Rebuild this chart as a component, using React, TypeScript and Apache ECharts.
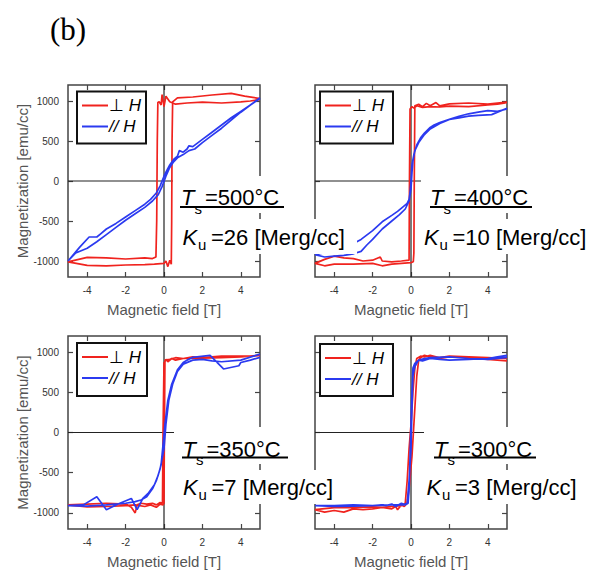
import React, { useEffect, useRef } from "react";
import * as echarts from "echarts";

// ---------- data ----------
const xTicks = [-4, -2, 0, 2, 4];
const yTicks = [-1000, -500, 0, 500, 1000];
const xMin = -5;
const xMax = 5;
const yMin = -1200;
const yMax = 1200;

const tsLabels = ["=500°C", "=400°C", "=350°C", "=300°C"];
const kuLabels = ["=26 [Merg/cc]", "=10 [Merg/cc]", "=7 [Merg/cc]", "=3 [Merg/cc]"];
const legendNames = ["⊥ ", "// "];
const xAxisName = "Magnetic field [T]";
const yAxisName = "Magnetization [emu/cc]";

// Panel 1 (Ts = 500 °C)
const p1Perp: number[][] = [
  [5, 1020], [4.5, 1000], [4, 990], [3, 975], [2, 985], [1.2, 975], [0.6, 960], [0.3, 990],
  [0.1, 1060], [0, 930], [-0.1, 1080], [-0.15, 950], [-0.25, 990], [-0.32, 980], [-0.35, 500],
  [-0.38, -500], [-0.42, -950], [-0.6, -970], [-1, -960], [-2, -975], [-3, -960], [-4, -955], [-5, -1010],
  [-4, -1055], [-3, -1060], [-2, -1050], [-1, -1045], [-0.5, -1040], [0, -1030], [0.1, -1000],
  [0.2, -1070], [0.3, -990], [0.38, -1040], [0.4, -500], [0.42, 500], [0.45, 990], [0.7, 1040],
  [1.5, 1050], [2.5, 1075], [3.5, 1095], [4.2, 1060], [5, 1030],
];
const p1Para: number[][] = [
  [5, 1040], [4.5, 950], [4, 870], [3.5, 790], [3, 700], [2.5, 610], [2, 520], [1.5, 430], [1.3, 440],
  [1.2, 400], [1, 360], [0.8, 380], [0.7, 310], [0.5, 270], [0.3, 200], [0.1, 110], [0, 60], [-0.2, -60],
  [-0.4, -150], [-0.7, -230], [-1, -290], [-1.5, -370], [-2, -450], [-2.5, -530], [-3, -600], [-3.3, -660],
  [-3.5, -700], [-3.9, -700], [-4.4, -830], [-5, -1000],
  [-4.6, -900], [-4, -840], [-3.5, -760], [-3, -670], [-2.5, -580], [-2, -490], [-1.5, -410], [-1, -330],
  [-0.6, -250], [-0.3, -170], [-0.1, -70], [0.1, 60], [0.3, 170], [0.5, 240], [0.7, 290], [1, 330],
  [1.3, 380], [1.6, 400], [2, 480], [2.5, 570], [3, 660], [3.5, 760], [4, 860], [4.5, 950], [5, 1030],
];

// Panel 2 (Ts = 400 °C)
const p2Perp: number[][] = [
  [5, 980], [4.5, 960], [4, 950], [3, 930], [2, 935], [1.5, 925], [1, 930], [0.6, 920], [0.3, 940],
  [0.15, 910], [0.05, 930], [-0.05, 900], [-0.08, 0], [-0.1, -990], [-0.5, -1000], [-1, -1010],
  [-1.5, -1000], [-1.6, -950], [-2, -990], [-2.5, -1000], [-3, -970], [-3.5, -960], [-4, -940],
  [-4.5, -980], [-5, -1030],
  [-4.5, -1060], [-4, -1040], [-3, -1040], [-2, -1030], [-1.5, -1060], [-1, -1040], [-0.5, -1030],
  [0, -1020], [0.12, -1010], [0.15, -900], [0.17, 0], [0.2, 940], [0.4, 960], [0.6, 930], [0.8, 970],
  [1, 940], [1.3, 980], [1.5, 940], [2, 965], [3, 975], [4, 960], [5, 985],
];
const p2Para: number[][] = [
  [5, 910], [4.6, 870], [4.2, 830], [3.5, 820], [3, 810], [2.5, 790], [2, 770], [1.5, 730], [1.2, 700],
  [1, 670], [0.7, 600], [0.5, 540], [0.3, 450], [0.15, 330], [0.05, 200], [0, 0], [-0.05, -150],
  [-0.1, -230], [-0.2, -280], [-0.4, -320], [-0.7, -380], [-1, -430], [-1.5, -510], [-2, -620],
  [-2.6, -730], [-3, -780], [-3.5, -830], [-4, -870], [-5, -920],
  [-4.5, -950], [-4, -940], [-3.5, -930], [-3, -910], [-2.6, -880], [-2.3, -800], [-2, -730],
  [-1.5, -600], [-1, -500], [-0.6, -420], [-0.3, -350], [-0.1, -250], [0, -100], [0.05, 100],
  [0.1, 250], [0.2, 380], [0.4, 480], [0.7, 580], [1, 650], [1.5, 720], [2, 770], [2.5, 810],
  [3, 840], [3.5, 860], [4, 880], [4.5, 870], [5, 900],
];

// Panel 3 (Ts = 350 °C)
const p3Perp: number[][] = [
  [5, 960], [4, 940], [3, 930], [2, 925], [1, 920], [0.6, 900], [0.4, 920], [0.2, 880], [0.1, 910],
  [0.05, 880], [0, 870], [-0.05, 0], [-0.08, -880], [-0.2, -870], [-0.4, -900], [-0.6, -880],
  [-0.9, -890], [-1.2, -880], [-1.4, -900], [-1.5, -1000], [-1.7, -930], [-2, -890], [-3, -880],
  [-4, -890], [-5, -900],
  [-4, -925], [-3, -920], [-2, -910], [-1.5, -900], [-1, -920], [-0.7, -900], [-0.4, -930],
  [-0.2, -890], [-0.05, -900], [0, -880], [0.02, 0], [0.05, 900], [0.3, 910], [0.6, 930], [1, 920],
  [1.5, 940], [2, 930], [3, 950], [4, 950], [5, 955],
];
const p3Para: number[][] = [
  [5, 935], [4.5, 900], [4, 870], [3.9, 830], [3.1, 790], [2.4, 960], [1.5, 935], [1.2, 900],
  [1, 870], [0.7, 780], [0.4, 600], [0.2, 400], [0.05, 100], [-0.05, -150], [-0.15, -400],
  [-0.3, -530], [-0.5, -650], [-0.8, -750], [-1.1, -820], [-1.4, -960], [-1.7, -820], [-2.3, -880],
  [-3, -960], [-3.5, -800], [-4.2, -900], [-5, -910],
  [-4, -915], [-3, -900], [-2, -880], [-1.5, -860], [-1.2, -840], [-0.9, -800], [-0.6, -700],
  [-0.4, -600], [-0.2, -450], [0, -200], [0.1, 100], [0.25, 400], [0.45, 600], [0.7, 760], [1, 850],
  [1.5, 900], [2, 910], [2.5, 890], [3, 880], [4, 900], [5, 975],
];

// Panel 4 (Ts = 300 °C)
const p4Perp: number[][] = [
  [5, 890], [4.5, 900], [4, 910], [3, 930], [2, 940], [1.5, 920], [1, 940], [0.7, 960], [0.5, 930],
  [0.4, 900], [0.3, 700], [0.2, 300], [0.05, -300], [-0.1, -700], [-0.2, -880], [-0.35, -920],
  [-0.5, -900], [-0.7, -960], [-0.8, -920], [-1, -950], [-1.5, -930], [-2, -950], [-2.5, -960],
  [-3, -950], [-3.5, -990], [-4, -970], [-4.5, -990], [-5, -960],
  [-4, -935], [-3, -930], [-2, -925], [-1.5, -930], [-1, -920], [-0.5, -910], [-0.3, -880],
  [-0.2, -600], [-0.1, -200], [0, 100], [0.1, 500], [0.2, 800], [0.3, 920], [0.5, 950], [0.7, 940],
  [1, 960], [1.5, 930], [2, 950], [3, 940], [4, 930], [5, 920],
];
const p4Para: number[][] = [
  [5, 960], [4.5, 940], [4, 920], [3, 910], [2, 900], [1.5, 910], [1, 920], [0.6, 890], [0.4, 900],
  [0.2, 860], [0.1, 800], [0.05, 500], [0, 100], [-0.05, -300], [-0.1, -700], [-0.15, -880],
  [-0.3, -900], [-0.5, -880], [-0.8, -920], [-1, -890], [-1.3, -910], [-1.5, -900], [-2, -910],
  [-3, -900], [-4, -910], [-5, -910],
  [-4, -920], [-3, -915], [-2, -910], [-1, -900], [-0.4, -900], [-0.2, -880], [-0.1, -600],
  [0, -200], [0.05, 300], [0.1, 700], [0.2, 820], [0.4, 900], [0.7, 920], [1, 930], [2, 940],
  [3, 920], [4, 910], [5, 935],
];

const perpData = [p1Perp, p2Perp, p3Perp, p4Perp];
const paraData = [p1Para, p2Para, p3Para, p4Para];

// ---------- layout ----------
const grids = [
  { left: 68, top: 85, width: 192, height: 192 },
  { left: 315, top: 85, width: 192, height: 192 },
  { left: 68, top: 336, width: 192, height: 193 },
  { left: 315, top: 336, width: 192, height: 193 },
];
const showYName = [true, false, true, false];
const legendBoxes = [
  { x: 77, y: 91.5, w: 69, h: 52 },
  { x: 320, y: 91.5, w: 73, h: 52 },
  { x: 77, y: 343, w: 70, h: 53 },
  { x: 320, y: 344, w: 73, h: 52 },
];
const annot = [
  { t: 181, ty: 197.5, k: 182.5, ky: 237, ul: [180, 284], uly: 207 },
  { t: 430, ty: 197.5, k: 424, ky: 237, ul: [430, 532], uly: 207 },
  { t: 182.5, ty: 449, k: 183, ky: 487, ul: [182, 288], uly: 457.5 },
  { t: 434, ty: 449, k: 426.5, ky: 487, ul: [434, 536], uly: 457.5 },
];
const whiteBoxes = [
  [173, 176, 118, 37], [175, 219, 182, 35],
  [421, 176, 118, 37], [419, 219, 175, 35],
  [174, 427, 118, 37], [176, 470, 168, 34],
  [424, 427, 120, 37], [421, 470, 170, 34],
];

const RED = "#f0231e";
const BLUE = "#2b3af0";
const FONT = "Liberation Sans";

function buildOption() {
  const xAxis: any[] = [];
  const yAxis: any[] = [];
  const series: any[] = [];
  const tickStyle = { color: "#444", width: 1.2 };
  const plain = (v: number) => String(v);
  grids.forEach((_, i) => {
    xAxis.push({
      type: "value", gridIndex: i, min: xMin, max: xMax, position: "bottom",
      axisLine: { show: false, onZero: false }, splitLine: { show: false },
      axisTick: { show: true, inside: true, length: 5, customValues: xTicks, lineStyle: tickStyle },
      axisLabel: { customValues: xTicks, formatter: plain, margin: 8, fontSize: 10, color: "#333", fontFamily: FONT },
      name: xAxisName, nameLocation: "middle", nameGap: 25,
      nameTextStyle: { fontSize: 15, color: "#555", fontFamily: FONT },
    });
    yAxis.push({
      type: "value", gridIndex: i, min: yMin, max: yMax, position: "left",
      axisLine: { show: false, onZero: false }, splitLine: { show: false },
      axisTick: { show: true, inside: true, length: 5, customValues: yTicks, lineStyle: tickStyle },
      axisLabel: {
        show: showYName[i], customValues: yTicks, formatter: plain, margin: 9, fontSize: 10, color: "#333", fontFamily: FONT,
      },
      name: showYName[i] ? yAxisName : "", nameLocation: "middle", nameGap: 34,
      nameTextStyle: { fontSize: 15, color: "#555", fontFamily: FONT },
    });
  });
  grids.forEach((_, i) => {
    xAxis.push({
      type: "value", gridIndex: i, min: xMin, max: xMax, position: "top",
      axisLine: { show: false, onZero: false }, splitLine: { show: false },
      axisTick: { show: true, inside: true, length: 5, customValues: xTicks, lineStyle: tickStyle },
      axisLabel: { show: false },
    });
    yAxis.push({
      type: "value", gridIndex: i, min: yMin, max: yMax, position: "right",
      axisLine: { show: false, onZero: false }, splitLine: { show: false },
      axisTick: { show: true, inside: true, length: 5, customValues: yTicks, lineStyle: tickStyle },
      axisLabel: { show: false },
    });
  });
  grids.forEach((_, i) => {
    const common = { xAxisIndex: i, yAxisIndex: i, type: "line", showSymbol: false, symbol: "none", silent: true };
    series.push({ ...common, data: [[0, yMin], [0, yMax]], lineStyle: { color: "#222", width: 1.2 }, z: 1 });
    series.push({ ...common, data: [[xMin, 0], [xMax, 0]], lineStyle: { color: "#222", width: 1.2 }, z: 1 });
    series.push({ ...common, name: "perp" + i, data: perpData[i], lineStyle: { color: RED, width: 1.7 }, z: 3 });
    series.push({ ...common, name: "para" + i, data: paraData[i], lineStyle: { color: BLUE, width: 1.7 }, z: 4 });
  });

  const graphic: any[] = [];
  graphic.push({
    type: "text", x: 50, y: 29, z: 100,
    style: { text: "(b)", fontFamily: "Liberation Serif", fontSize: 31, fill: "#000", verticalAlign: "middle", textVerticalAlign: "middle" },
  });
  whiteBoxes.forEach((b) => {
    graphic.push({ type: "rect", z: 50, shape: { x: b[0], y: b[1], width: b[2], height: b[3] }, style: { fill: "#fff" } });
  });
  const txt = (x: number, y: number, text: string, size: number, italic: boolean) => ({
    type: "text", x, y, z: 60,
    style: {
      text, fontFamily: FONT, fontSize: size, fontStyle: italic ? "italic" : "normal", fill: "#000",
      verticalAlign: "middle", textVerticalAlign: "middle",
    },
  });
  annot.forEach((a, i) => {
    graphic.push(txt(a.t, a.ty, "T", 22, true));
    graphic.push(txt(a.t + 13.5, a.ty + 10.5, "s", 15, false));
    graphic.push(txt(a.t + 24, a.ty, tsLabels[i], 22, false));
    graphic.push({
      type: "line", z: 61, shape: { x1: a.ul[0], y1: a.uly, x2: a.ul[1], y2: a.uly },
      style: { stroke: "#000", lineWidth: 1.8 },
    });
    graphic.push(txt(a.k, a.ky, "K", 22, true));
    graphic.push(txt(a.k + 15.5, a.ky + 7, "u", 15, false));
    graphic.push(txt(a.k + 28.5, a.ky, kuLabels[i], 22, false));
  });
  legendBoxes.forEach((b) => {
    graphic.push({
      type: "rect", z: 70, shape: { x: b.x, y: b.y, width: b.w, height: b.h },
      style: { fill: "#fff", stroke: "#111", lineWidth: 2 },
    });
    const rows = [
      { y: b.y + 14, color: RED, label: legendNames[0] },
      { y: b.y + 35, color: BLUE, label: legendNames[1] },
    ];
    rows.forEach((r) => {
      graphic.push({
        type: "line", z: 71, shape: { x1: b.x + 5, y1: r.y, x2: b.x + 31, y2: r.y },
        style: { stroke: r.color, lineWidth: 2 },
      });
      graphic.push({
        type: "text", x: b.x + 32, y: r.y, z: 72,
        style: {
          text: "{a|" + r.label + "}{b|H}",
          rich: {
            a: { fontFamily: FONT, fontSize: 17, fill: "#000", fontStyle: r.label.startsWith("/") ? "italic" : "normal" },
            b: { fontFamily: FONT, fontSize: 17, fill: "#000", fontStyle: "italic" },
          },
          verticalAlign: "middle", textVerticalAlign: "middle",
        },
      });
    });
  });

  return {
    animation: false,
    backgroundColor: "#fff",
    grid: grids.map((g) => ({ ...g, show: true, borderColor: "#444", borderWidth: 1.5, backgroundColor: "transparent" })),
    xAxis,
    yAxis,
    series,
    graphic,
  };
}

export default function App() {
  const ref = useRef<HTMLDivElement>(null);
  useEffect(() => {
    document.body.style.margin = "0";
    if (!ref.current) return;
    const chart = echarts.init(ref.current, undefined, { renderer: "svg" });
    chart.setOption(buildOption() as any);
    return () => chart.dispose();
  }, []);
  return <div ref={ref} style={{ width: 596, height: 576 }} />;
}
